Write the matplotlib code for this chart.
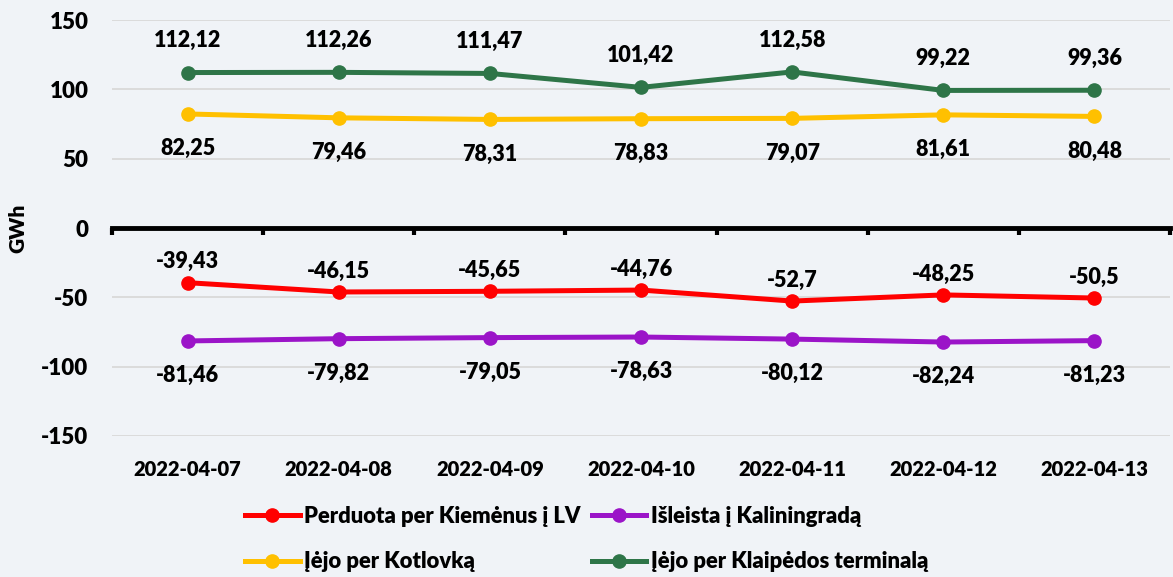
import numpy as np
import matplotlib
matplotlib.use('Agg')
import matplotlib.pyplot as plt

plt.rcParams['font.family'] = ['Lato', 'DejaVu Sans']
plt.rcParams['font.weight'] = 'heavy'
plt.rcParams['axes.unicode_minus'] = False

dates = ['2022-04-07', '2022-04-08', '2022-04-09', '2022-04-10',
         '2022-04-11', '2022-04-12', '2022-04-13']
perduota = [-39.43, -46.15, -45.65, -44.76, -52.7, -48.25, -50.5]
isleista = [-81.46, -79.82, -79.05, -78.63, -80.12, -82.24, -81.23]
kotlovka = [82.25, 79.46, 78.31, 78.83, 79.07, 81.61, 80.48]
klaipeda = [112.12, 112.26, 111.47, 101.42, 112.58, 99.22, 99.36]

bg = '#F0F3F7'
fs = 14.5
fig = plt.figure(figsize=(11.73, 5.77), dpi=100, facecolor=bg)
ax = fig.add_axes([0.0955, 0.2444, 0.902, 0.7209], facecolor=bg)

x = np.arange(len(dates))
# (values, colour, label, label offset in points)
series = [
    (perduota, '#FF0000', 'Perduota per Kiemėnus į LV', 15),
    (kotlovka, '#FFC000', 'Įėjo per Kotlovką', -25),
    (isleista, '#9B14C8', 'Išleista į Kaliningradą', -25),
    (klaipeda, '#2E7548', 'Įėjo per Klaipėdos terminalą', 23),
]
for vals, col, lab, off in series:
    ax.plot(x, vals, color=col, lw=3.6, marker='o', ms=9.5, label=lab, zorder=3)
    for xi, v in zip(x, vals):
        ax.annotate(f'{v:g}'.replace('.', ','), (xi, v), xytext=(0, off),
                    textcoords='offset points', ha='center', va='center',
                    fontsize=15.5, fontweight='heavy', color='#000000')

ax.set_xlim(-0.5, len(dates) - 0.5)
ax.set_ylim(-150, 150)
ax.set_yticks([-150, -100, -50, 0, 50, 100, 150])
ax.yaxis.grid(True, color='#D9D9D9', lw=1.3)
ax.set_axisbelow(True)
ax.tick_params(axis='y', length=0, labelsize=16, pad=17)
ax.set_ylabel('GWh', fontsize=15, fontweight='heavy', labelpad=10)

for s in ['top', 'right', 'left']:
    ax.spines[s].set_visible(False)
ax.spines['bottom'].set_position(('data', 0))
ax.spines['bottom'].set_linewidth(3.5)
ax.spines['bottom'].set_zorder(2)
ax.set_xticks(np.arange(len(dates) + 1) - 0.5)
ax.set_xticklabels([])
ax.tick_params(axis='x', direction='out', length=5, width=3, color='black')

sec = ax.secondary_xaxis(location=0)
sec.set_xticks(x)
sec.set_xticklabels(dates, fontsize=fs, fontweight='heavy')
sec.tick_params(length=0, pad=17)
sec.spines['bottom'].set_visible(False)

leg = fig.legend(loc='lower center', bbox_to_anchor=(0.5, -0.026), ncol=2,
                 frameon=False, fontsize=15.8, handlelength=2.5,
                 columnspacing=0.5, handletextpad=0.2, labelspacing=1.1)

fig.savefig('out.png', dpi=100, facecolor=bg)
